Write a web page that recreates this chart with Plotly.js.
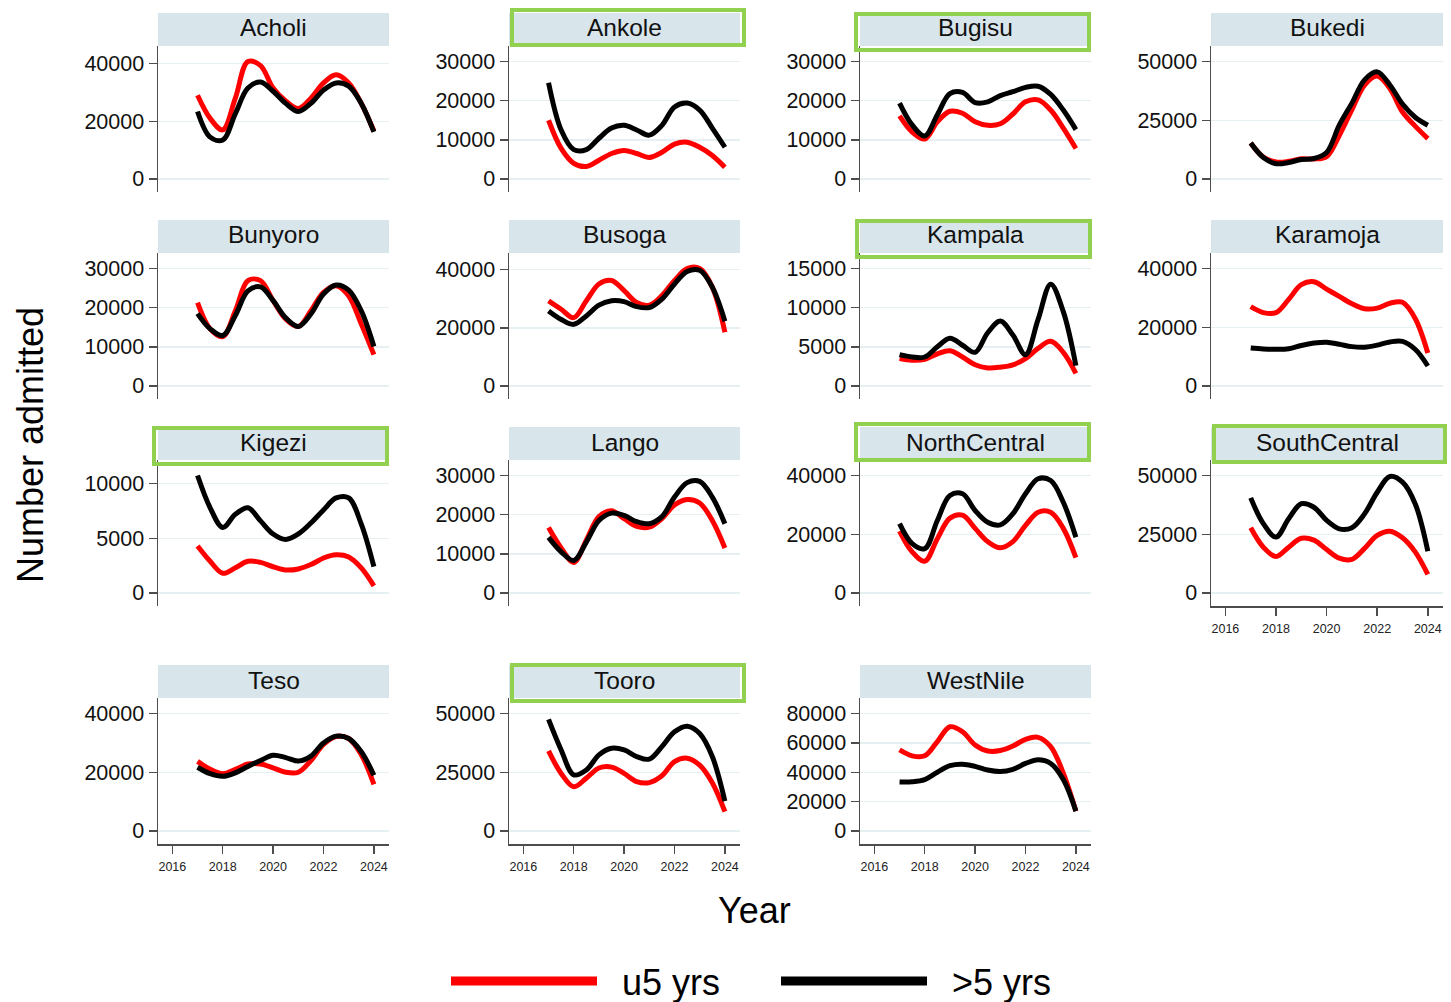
<!DOCTYPE html>
<html><head><meta charset="utf-8">
<script src="https://cdn.plot.ly/plotly-3.0.1.min.js"></script>
<style>html,body{margin:0;padding:0;background:#fff;width:1451px;height:1002px;overflow:hidden}#chart{width:1451px;height:1002px;overflow:hidden}</style>
</head><body><div id="chart"></div>
<script>
// ---------- DATA ----------
const YEARS = [2017,2017.5,2018,2018.5,2019,2019.5,2020,2020.5,2021,2021.5,2022,2022.5,2023,2023.5,2024];
const X_TICKS = [2016,2018,2020,2022,2024];
const REGIONS = ['Acholi','Ankole','Bugisu','Bukedi','Bunyoro','Busoga','Kampala','Karamoja','Kigezi','Lango','NorthCentral','SouthCentral','Teso','Tooro','WestNile'];
const HIGHLIGHTED = ['Ankole','Bugisu','Kampala','Kigezi','NorthCentral','SouthCentral','Tooro'];
const SERIES_NAMES = ['u5 yrs', '>5 yrs'];

const acholiU5   = [29000,21000,17000,28000,40700,39300,31500,27000,24400,28000,33300,36100,33300,26200,16600];
const acholiO5   = [23400,14500,13500,22600,31500,33600,30400,26200,23400,26200,30800,33300,32200,26200,16300];
const ankoleU5   = [15000,7800,4000,3200,4800,6500,7300,6500,5500,6800,8900,9400,8100,6000,3000];
const ankoleO5   = [24600,12500,7500,7500,10400,13000,13700,12500,11200,13700,18400,19400,17600,13000,8100];
const bugisuU5   = [16100,12000,10200,14600,17300,16800,14600,13700,14100,16600,19700,20200,17600,13000,7800];
const bugisuO5   = [19400,13800,11000,16400,21800,22100,19500,19700,21300,22300,23400,23700,21600,17600,12600];
const bukediU5   = [15300,9300,7200,7500,8600,8500,9500,18500,29500,40000,43800,38500,28500,22500,17200];
const bukediO5   = [15300,9100,6500,7000,8300,8700,11300,22900,32300,42200,45600,40000,31900,26300,22900];
const bunyoroU5  = [21300,14600,12600,19200,26900,26900,21800,17100,15200,19200,23900,25600,23000,15800,8000];
const bunyoroO5  = [18500,14600,12900,18000,24300,25300,21800,17400,15200,18400,23500,25800,24500,19200,10100];
const busogaU5   = [29300,26400,23500,29300,35100,36300,32800,28700,27800,31100,36300,40400,40400,34000,18500];
const busogaO5   = [25800,22900,21200,24100,27800,29300,29000,27300,27000,29900,35100,39400,39800,34000,22300];
const kampalaU5  = [3500,3300,3400,4100,4500,3700,2700,2300,2400,2700,3500,4800,5700,4300,1600];
const kampalaO5  = [4000,3700,3700,5000,6100,5200,4300,6800,8300,6500,4000,8500,13000,9500,2600];
const karamojaU5 = [27000,25000,25000,29500,34500,35500,33000,30500,28000,26300,26500,28200,28500,23000,11200];
const karamojaO5 = [12900,12600,12500,12700,13800,14600,14900,14200,13400,13200,13900,15000,15200,12500,6800];
const kigeziU5   = [4300,2900,1800,2300,2900,2800,2400,2100,2200,2600,3200,3500,3300,2300,650];
const kigeziO5   = [10750,7800,6000,7200,7800,6600,5400,4900,5400,6400,7600,8700,8700,6300,2400];
const langoU5    = [16700,11500,7800,13500,19500,21000,19000,17000,16800,19000,22500,23900,23000,18500,11500];
const langoO5    = [14200,10500,8300,13000,18500,20400,19800,18200,17700,19500,24500,28200,28500,24500,17700];
const northCentralU5 = [21100,14000,10800,18500,25500,26500,22000,17500,15400,17500,23000,27500,27500,22000,12000];
const northCentralO5 = [23600,16800,15100,24700,33200,33800,28100,24100,23200,27000,33800,38900,38300,30900,19000];
const southCentralU5 = [27800,19500,15500,19500,23300,22500,18500,14800,14300,19000,24500,26300,23500,17500,7900];
const southCentralO5 = [40500,29500,23800,31600,38000,36500,30900,27300,27800,33700,42900,49600,47200,38000,17800];
const tesoU5     = [23700,21000,19500,21000,22800,22800,21500,20000,20000,24000,29500,32200,31500,26000,15900];
const tesoO5     = [21700,19500,18600,19800,22000,24000,25800,25000,23800,25500,30000,32300,31500,27000,19000];
const tooroU5    = [34100,24500,18800,22500,26800,27200,24500,21000,20600,23500,29500,31000,28000,20500,8200];
const tooroO5    = [47500,34500,23900,26000,32400,35200,34500,31700,30600,35900,42200,44600,41500,31700,12700];
const westNileU5 = [55200,51200,51200,60900,71000,67600,58600,54500,54800,57900,62400,63800,57500,39400,13500];
const westNileO5 = [33400,33500,35000,40000,44500,45500,44000,41500,40500,42000,46000,48500,46000,35000,13500];

const ticks20k = [0,20000,40000];
const ticks10k = [0,10000,20000,30000];
const ticks25k = [0,25000,50000];
const ticks5k  = [0,5000,10000,15000];
const ticksKig = [0,5000,10000];
const ticksWN  = [0,20000,40000,60000,80000];

const SERIES = [
  [acholiU5, acholiO5, ticks20k], [ankoleU5, ankoleO5, ticks10k], [bugisuU5, bugisuO5, ticks10k], [bukediU5, bukediO5, ticks25k],
  [bunyoroU5, bunyoroO5, ticks10k], [busogaU5, busogaO5, ticks20k], [kampalaU5, kampalaO5, ticks5k], [karamojaU5, karamojaO5, ticks20k],
  [kigeziU5, kigeziO5, ticksKig], [langoU5, langoO5, ticks10k], [northCentralU5, northCentralO5, ticks20k], [southCentralU5, southCentralO5, ticks25k],
  [tesoU5, tesoO5, ticks20k], [tooroU5, tooroO5, ticks25k], [westNileU5, westNileO5, ticksWN]
];

// ---------- LAYOUT / STYLE ----------
const W = 1451, H = 1002;
const COL_LEFT = [158, 509, 860, 1211];
const PANEL_W = 231;
const ROW_TOP = [46, 253, 460, 698];
const PANEL_H = 146;
const STRIP_H = 33;
const BOTTOM_PANELS = ['SouthCentral','Teso','Tooro','WestNile'];
const HL_OFF = {
  Ankole:[1,6,-5,1], Bugisu:[-6,0,-1,6], Kampala:[-5,1,-1,6], Kigezi:[-6,0,-1,6],
  NorthCentral:[-6,0,-5,2], SouthCentral:[1,4,-3,4], Tooro:[1,6,-2,5]
};
const COLORS = ['#ff0000', '#000000'];
const FONT = 'Liberation Sans, Arial, sans-serif';
const AXC = '#4d4d4d';

const px = v => v / W;
const py = v => 1 - v / H;

const traces = [];
const layout = {
  width: W, height: H, margin: {l:0, r:0, t:0, b:0, autoexpand:false},
  paper_bgcolor: '#fff', plot_bgcolor: '#fff',
  font: {family: FONT, color: '#000'},
  showlegend: true,
  legend: {orientation:'h', x:px(446), xanchor:'left', y: py(981), yanchor:'middle',
           font:{size:36, family:FONT, color:'#000'}, itemwidth:146,
           entrywidth:169, entrywidthmode:'pixels', bgcolor:'rgba(0,0,0,0)'},
  shapes: [], annotations: []
};

REGIONS.forEach((name, i) => {
  const r = Math.floor(i / 4), c = i % 4;
  const [u5, o5, yt] = SERIES[i];
  const id = i === 0 ? '' : String(i + 1);
  const x0 = COL_LEFT[c], x1 = COL_LEFT[c] + PANEL_W + (c === 3 ? 1 : 0);
  const top = ROW_TOP[r], bot = top + PANEL_H;
  const S = Math.max(yt[yt.length - 1], ...u5, ...o5);
  const isBottom = BOTTOM_PANELS.includes(name);

  layout['xaxis' + id] = {
    domain: [px(x0), px(x1)], anchor: 'y' + id, range: [2015.43, 2024.6],
    showgrid: false, zeroline: false,
    showline: isBottom, linecolor: AXC, linewidth: 1.5,
    ticks: isBottom ? 'outside' : '', tickvals: X_TICKS, ticklen: 8, tickwidth: 1.5, tickcolor: AXC,
    showticklabels: isBottom, tickfont: {size: 12.5, family: FONT, color: '#222'}, ticklabelstandoff: 2
  };
  layout['yaxis' + id] = {
    domain: [py(bot), py(top)], anchor: 'x' + id,
    range: [-S * 13 / 117, S * (1 + 15.5 / 117)],
    tickvals: yt, tickformat: 'd', ticks: 'outside', ticklen: 8, tickwidth: 1.5, tickcolor: AXC,
    showline: true, linecolor: AXC, linewidth: 1.5,
    showgrid: true, gridcolor: '#e6eff2', gridwidth: 1.5, zeroline: false,
    tickfont: {size: 21.5, family: FONT, color: '#111'}
  };

  [u5, o5].forEach((vals, k) => {
    traces.push({x: YEARS, y: vals, xaxis: 'x' + id, yaxis: 'y' + id, type: 'scatter', mode: 'lines',
      name: SERIES_NAMES[k], legendgroup: 'g' + k, showlegend: false, hoverinfo: 'skip',
      line: {color: COLORS[k], width: 5, shape: 'spline', smoothing: 1}});
  });

  layout.shapes.push({type:'rect', xref:'paper', yref:'paper', x0:px(x0), x1:px(x1), y0:py(top), y1:py(top - STRIP_H),
    fillcolor:'#d8e5eb', line:{width:0}, layer:'below'});
  layout.annotations.push({xref:'paper', yref:'paper', x:px((x0 + x1) / 2), y:py(top - STRIP_H / 2 - 1.5),
    text:name, showarrow:false, xanchor:'center', yanchor:'middle', font:{size:24.5, family:FONT, color:'#111'}});
  if (HIGHLIGHTED.includes(name)) {
    const o = HL_OFF[name];
    layout.shapes.push({type:'rect', xref:'paper', yref:'paper',
      x0:px(x0 + o[0] + 2), x1:px(x1 + o[1] - 2), y0:py(top + o[3] - 2), y1:py(top - STRIP_H + o[2] + 2),
      fillcolor:'rgba(0,0,0,0)', line:{color:'#92d050', width:4}, layer:'above'});
  }
});

// legend entries (thicker key lines, as in the reference legend); a single empty point keeps them in the legend
SERIES_NAMES.forEach((nm, k) => {
  traces.push({x: [YEARS[0]], y: [null], type: 'scatter', mode: 'lines', name: '\u00a0\u00a0' + nm, legendgroup: 'g' + k,
    showlegend: true, hoverinfo: 'skip', line: {color: COLORS[k], width: 9}});
});

layout.annotations.push({xref:'paper', yref:'paper', x:px(30), y:py(445), text:'Number admitted', textangle:-90,
  showarrow:false, xanchor:'center', yanchor:'middle', font:{size:36, family:FONT, color:'#000'}});
layout.annotations.push({xref:'paper', yref:'paper', x:px(755), y:py(910), text:'Year',
  showarrow:false, xanchor:'center', yanchor:'middle', font:{size:36, family:FONT, color:'#000'}});

Plotly.newPlot('chart', traces, layout, {staticPlot: true});
</script></body></html>
